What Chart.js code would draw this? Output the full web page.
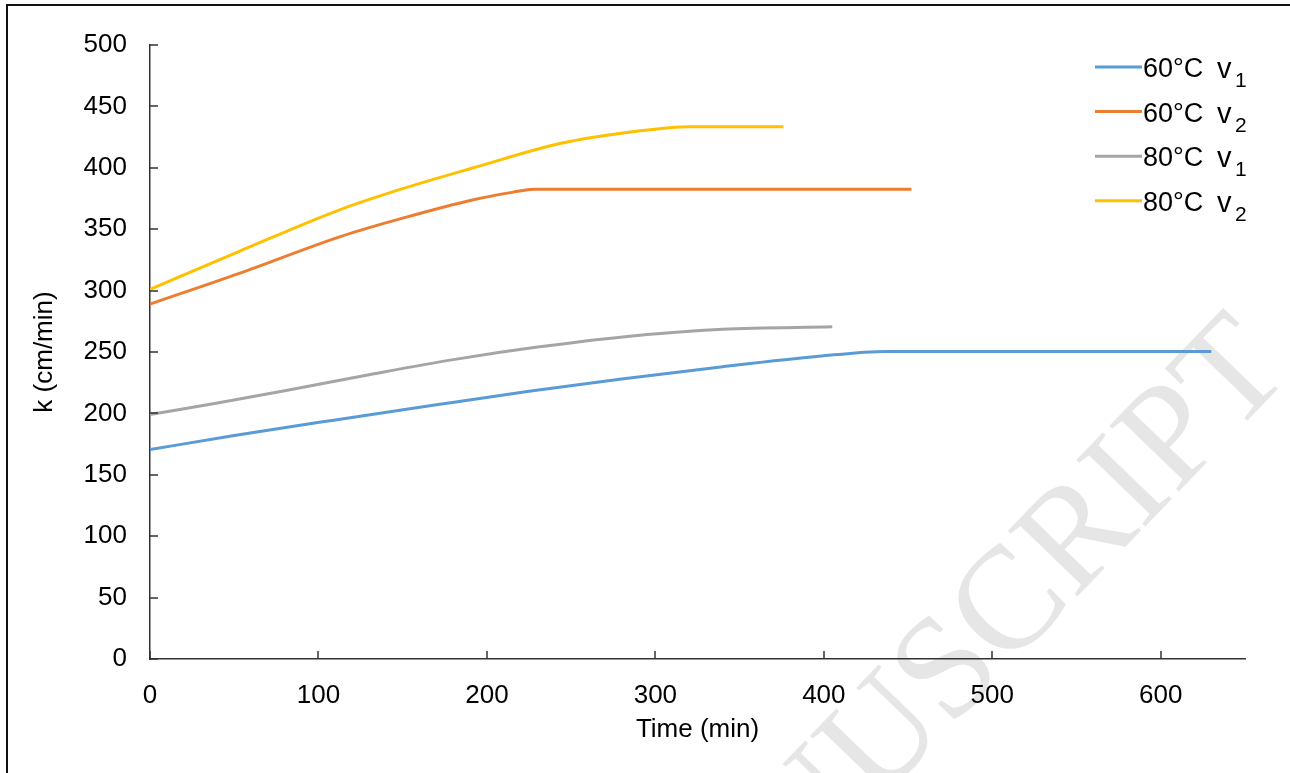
<!DOCTYPE html>
<html>
<head>
<meta charset="utf-8">
<script src="https://cdn.jsdelivr.net/npm/chart.js@4/dist/chart.umd.min.js"></script>
<style>
  html, body { margin: 0; padding: 0; background: #fff; }
  #wrap { position: absolute; left: 0; top: 0; width: 1290px; height: 773px; overflow: hidden; }
  #frame { position: absolute; left: 6px; top: 4px; width: 1300px; height: 800px;
           border-left: 2px solid #111; border-top: 2px solid #111; box-sizing: border-box; pointer-events: none; }
  canvas { position: absolute; left: 0; top: 0; }
</style>
</head>
<body>
<div id="wrap">
  <canvas id="c" width="1290" height="773"></canvas>
  <div id="frame"></div>
</div>
<script>
// Series: time (min) and k (cm/min)
const t60v1 = [0, 50, 109, 170, 225, 280, 340, 397, 437, 630];
const k60v1 = [170.5, 182, 194.5, 207, 218, 228, 238, 246.5, 250.5, 250.5];

const t60v2 = [0, 53, 113, 150, 192, 215, 228, 452];
const k60v2 = [289, 314, 344, 359, 374, 380, 382.5, 382.5];

const t80v1 = [0, 40, 80, 130, 181, 230, 282, 340, 405];
const k80v1 = [199, 208.5, 218.5, 231.5, 244, 254, 262.5, 268.5, 270.5];

const t80v2 = [0, 53, 113, 150, 192, 244, 290, 320, 376];
const k80v2 = [301, 332, 366, 383, 400, 420, 430, 433.5, 433.5];

// Legend text parts: temperature label, velocity symbol, subscript
const seriesTemps = ['60°C', '60°C', '80°C', '80°C'];
const seriesSubs = ['1', '2', '1', '2'];
const seriesColors = ['#5B9BD5', '#ED7D31', '#A5A5A5', '#FFC000'];

const xTicks = [0, 100, 200, 300, 400, 500, 600];
const yTicks = [0, 50, 100, 150, 200, 250, 300, 350, 400, 450, 500];

const FONT = '"Liberation Sans", Arial, sans-serif';

function pts(ts, ks) { return ts.map((t, i) => ({ x: t, y: ks[i] })); }

// Short inward tick marks on both axes
const innerTicks = {
  id: 'innerTicks',
  afterDraw(chart) {
    const { ctx, scales: { x, y } } = chart;
    ctx.save();
    ctx.strokeStyle = '#333';
    ctx.lineWidth = 1.5;
    ctx.beginPath();
    x.ticks.forEach(tk => {
      const px = Math.round(x.getPixelForValue(tk.value));
      ctx.moveTo(px, y.bottom); ctx.lineTo(px, y.bottom - 8);
    });
    y.ticks.forEach(tk => {
      const py = Math.round(y.getPixelForValue(tk.value));
      ctx.moveTo(x.left, py); ctx.lineTo(x.left + 8, py);
    });
    ctx.stroke();
    ctx.restore();
  }
};

// Legend with subscripted velocity symbol
const subLegend = {
  id: 'subLegend',
  afterDraw(chart) {
    const { ctx } = chart;
    const x0 = 1095, x1 = 1142, y0 = 67, dy = 44.6;
    ctx.save();
    chart.data.datasets.forEach((ds, i) => {
      const yy = y0 + i * dy;
      ctx.strokeStyle = ds.borderColor;
      ctx.lineWidth = 3;
      ctx.beginPath(); ctx.moveTo(x0, yy); ctx.lineTo(x1, yy); ctx.stroke();
      ctx.fillStyle = '#000';
      ctx.textBaseline = 'alphabetic';
      ctx.textAlign = 'left';
      ctx.font = '27px ' + FONT;
      ctx.fillText(seriesTemps[i], 1143, yy + 10);
      ctx.font = '29px ' + FONT;
      ctx.fillText('v', 1217, yy + 11);
      ctx.font = '21px ' + FONT;
      ctx.fillText(seriesSubs[i], 1235, yy + 20);
    });
    ctx.restore();
  }
};

// Faint diagonal watermark behind everything
const watermark = {
  id: 'watermark',
  beforeDraw(chart) {
    const { ctx } = chart;
    ctx.save();
    ctx.translate(1266, 346);
    ctx.rotate(-46 * Math.PI / 180);
    ctx.font = '146px "Liberation Serif", "Times New Roman", serif';
    ctx.fillStyle = '#e6e6e6';
    ctx.textAlign = 'right';
    ctx.textBaseline = 'middle';
    ctx.fillText('MANUSCRIPT', 0, 0);
    ctx.restore();
  }
};

const lineDs = (label, ts, ks, color) => ({
  label, data: pts(ts, ks), borderColor: color, backgroundColor: color,
  borderWidth: 3, pointRadius: 0, fill: false, cubicInterpolationMode: 'monotone', borderCapStyle: 'butt'
});

new Chart(document.getElementById('c'), {
  type: 'line',
  data: {
    datasets: [
      lineDs('60°C v1', t60v1, k60v1, seriesColors[0]),
      lineDs('60°C v2', t60v2, k60v2, seriesColors[1]),
      lineDs('80°C v1', t80v1, k80v1, seriesColors[2]),
      lineDs('80°C v2', t80v2, k80v2, seriesColors[3])
    ]
  },
  options: {
    responsive: false,
    animation: false,
    devicePixelRatio: 1,
    layout: { padding: { left: 0, top: 45, right: 45, bottom: 0 } },
    plugins: { legend: { display: false }, tooltip: { enabled: false } },
    scales: {
      x: {
        type: 'linear', min: 0, max: 650,
        afterBuildTicks: s => { s.ticks = xTicks.map(v => ({ value: v })); },
        afterFit: s => { s.height = 114; },
        grid: { display: true, drawOnChartArea: false, drawTicks: false },
        border: { display: true, color: '#333', width: 1.5 },
        ticks: { padding: 21, color: '#000', font: { family: FONT, size: 26 } },
        title: { display: true, text: 'Time (min)', color: '#000', font: { family: FONT, size: 26 }, padding: { top: 0, bottom: 28 } }
      },
      y: {
        type: 'linear', min: 0, max: 500,
        afterBuildTicks: s => { s.ticks = yTicks.map(v => ({ value: v })); },
        afterFit: s => { s.width = 150; },
        grid: { display: true, drawOnChartArea: false, drawTicks: false },
        border: { display: true, color: '#333', width: 1.5 },
        ticks: { padding: 23, color: '#000', font: { family: FONT, size: 26 } },
        title: { display: true, text: 'k (cm/min)', color: '#000', font: { family: FONT, size: 26 }, padding: { top: 29, bottom: 0 } }
      }
    }
  },
  plugins: [watermark, innerTicks, subLegend]
});
</script>
</body>
</html>
